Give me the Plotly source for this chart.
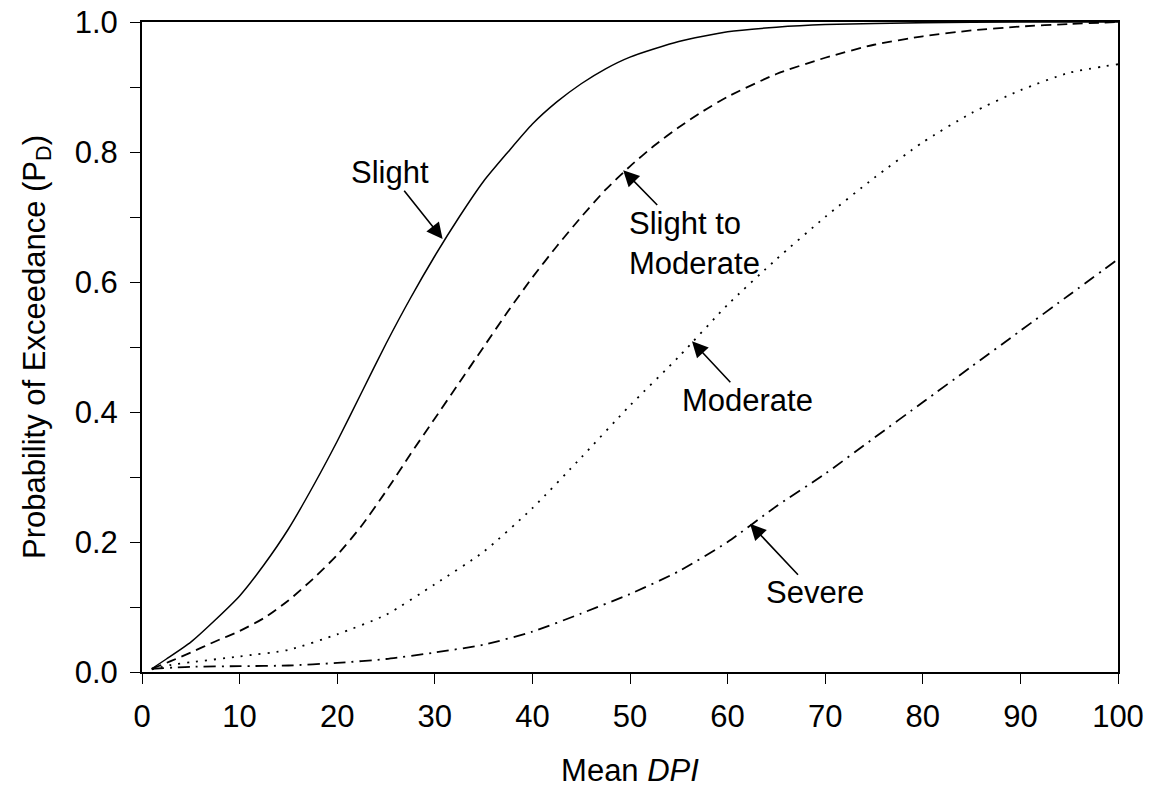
import plotly.graph_objects as go

# Mean DPI values at which each fragility curve is sampled
dpi_slight = [1, 2.5, 5, 7.5, 10, 12.5, 15, 17.5, 20, 22.5, 25, 27.5, 30, 32.5, 35, 37.5,
              40, 42.5, 45, 47.5, 50, 55, 60, 65, 70, 80, 90, 100]
p_slight = [0.005, 0.02, 0.046, 0.08, 0.117, 0.165, 0.22, 0.285, 0.355, 0.43, 0.505, 0.575,
            0.64, 0.70, 0.755, 0.80, 0.843, 0.877, 0.905, 0.928, 0.946, 0.97, 0.985, 0.992,
            0.996, 0.999, 1.0, 1.0]

dpi_slight_mod = [1, 3, 5, 7.5, 10, 12.5, 15, 17.5, 20, 22.5, 25, 27.5, 30, 32.5, 35, 37.5,
                  40, 42.5, 45, 47.5, 50, 52.5, 55, 57.5, 60, 65, 70, 75, 80, 85, 90, 95, 100]
p_slight_mod = [0.005, 0.017, 0.03, 0.047, 0.063, 0.083, 0.11, 0.143, 0.18, 0.225, 0.278, 0.335,
                0.39, 0.445, 0.5, 0.555, 0.607, 0.655, 0.70, 0.742, 0.778, 0.81, 0.838, 0.863,
                0.885, 0.92, 0.945, 0.965, 0.978, 0.987, 0.993, 0.997, 1.0]

dpi_moderate = [1, 3, 5, 10, 15, 20, 25, 30, 35, 40, 45, 50, 55, 60, 65, 70, 75, 80, 85, 90,
                95, 100]
p_moderate = [0.004, 0.011, 0.015, 0.024, 0.034, 0.058, 0.088, 0.135, 0.185, 0.252, 0.33,
              0.41, 0.485, 0.565, 0.635, 0.70, 0.76, 0.815, 0.86, 0.895, 0.922, 0.935]

dpi_severe = [1, 5, 10, 15, 20, 25, 30, 35, 40, 45, 50, 55, 60, 65, 70, 75, 80, 85, 90, 95, 100]
p_severe = [0.005, 0.008, 0.009, 0.01, 0.014, 0.02, 0.03, 0.042, 0.062, 0.09, 0.12, 0.155,
            0.20, 0.255, 0.305, 0.36, 0.415, 0.47, 0.525, 0.58, 0.635]

x_ticks = list(range(0, 101, 10))
y_ticks = [round(i * 0.1, 1) for i in range(11)]
y_ticktext = [f"{v:.1f}" if i % 2 == 0 else "" for i, v in enumerate(y_ticks)]

FONT = "Liberation Sans, Arial, sans-serif"

fig = go.Figure()
styles = [
    (dpi_slight, p_slight, "solid", 1.5),
    (dpi_slight_mod, p_slight_mod, "10px,6px", 1.8),
    (dpi_moderate, p_moderate, "2px,7px", 1.8),
    (dpi_severe, p_severe, "12px,6px,2px,6px", 1.8),
]
for xs, ys, dash, w in styles:
    fig.add_trace(go.Scatter(x=xs, y=ys, mode="lines", showlegend=False,
                             line=dict(color="black", width=w, dash=dash, shape="spline",
                                       smoothing=0.6)))

# Curve labels: text placed at (text_x, text_y) with an arrow to the curve point (tip_x, tip_y)
labels = [
    # text, text_x, text_y, tip_x, tip_y, align
    ("Slight", 25.4, 0.768, 30.8, 0.666, "center"),
    ("Slight to<br>Moderate", 56.6, 0.66, 49.3, 0.772, "left"),
    ("Moderate", 62.0, 0.418, 56.35, 0.509, "center"),
    ("Severe", 68.95, 0.122, 62.3, 0.228, "center"),
]
for text, tx, ty, hx, hy, align in labels:
    fig.add_annotation(x=hx, y=hy, ax=tx, ay=ty, xref="x", yref="y", axref="x", ayref="y",
                       text=text, align=align, showarrow=True, arrowhead=2, arrowsize=2.0,
                       arrowwidth=1.6, arrowcolor="black", standoff=0, borderpad=0,
                       font=dict(family=FONT, size=31, color="black"))

axis_common = dict(showline=True, linecolor="black", linewidth=2, mirror=True,
                   ticks="outside", ticklen=10, tickwidth=1, tickcolor="black",
                   showgrid=False, zeroline=False, automargin=False,
                   tickfont=dict(family=FONT, size=31, color="black"))

fig.update_xaxes(range=[0, 100], tickvals=x_ticks, ticktext=[str(v) for v in x_ticks],
                 ticklabelstandoff=6,
                 title=dict(text="Mean <i>DPI</i>", standoff=28,
                            font=dict(family=FONT, size=31, color="black")),
                 **axis_common)
fig.update_yaxes(range=[0, 1], tickvals=y_ticks, ticktext=y_ticktext,
                 ticklabelstandoff=6,
                 title=dict(text="Probability of Exceedance (P<sub>D</sub>)", standoff=20,
                            font=dict(family=FONT, size=31, color="black")),
                 **axis_common)

fig.update_layout(width=1151, height=788, plot_bgcolor="white", paper_bgcolor="white",
                  margin=dict(l=142, r=33, t=22, b=116), font=dict(family=FONT))

fig.write_html("out.html")
